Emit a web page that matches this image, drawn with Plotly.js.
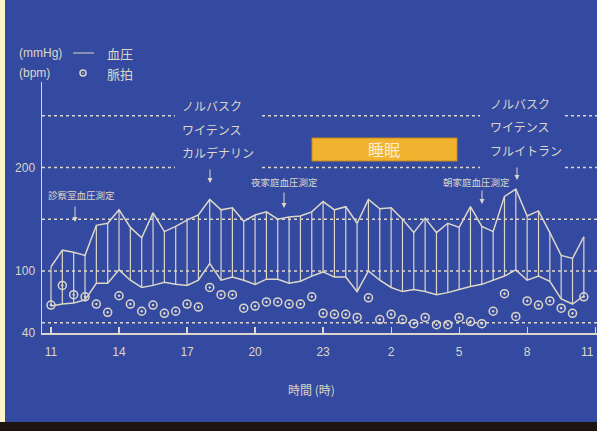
<!DOCTYPE html>
<html>
<head>
<meta charset="utf-8">
<script src="https://cdn.plot.ly/plotly-3.0.1.min.js"></script>
<style>
html,body{margin:0;padding:0;background:#3449a0;overflow:hidden;}
#chart{width:597px;height:431px;}
</style>
</head>
<body>
<div id="chart"></div>
<script>
// Time of measurement (hours since midnight of day 1; 24+ = next day)
const times = [11,11.5,12,12.5,13,13.5,14,14.5,15,15.5,16,16.5,17,17.5,18,18.5,19,19.5,20,20.5,21,21.5,22,22.5,23,23.5,24,24.5,25,25.5,26,26.5,27,27.5,28,28.5,29,29.5,30,30.5,31,31.5,32,32.5,33,33.5,34,34.5];
// Systolic blood pressure (mmHg)
const systolic = [104,120,118,115,144,146,159,142,132,156,138,143,149,154,169,159,161,148,154,157,150,152,153,157,167,159,162,146,169,160,161,150,137,151,137,146,142,162,143,138,172,179,153,158,137,115,112,133];
// Diastolic blood pressure (mmHg)
const diastolic = [66,68,69,72,88,88,101,91,84,86,89,87,86,91,107,91,94,91,87,92,92,88,90,95,99,94,94,80,100,91,84,80,82,80,77,79,82,85,87,91,95,101,91,95,90,73,68,76];
// Pulse (bpm)
const pulse = [67,86,77,75,68,60,76,68,61,67,59,61,68,65,84,77,77,64,66,70,70,68,68,75,59,58,58,55,74,53,58,53,49,55,48,48,55,51,49,61,78,56,71,67,71,64,59,75];
// Axis ticks
const xTickVals = [11,14,17,20,23,26,29,32,35];
const xTickText = ['11','14','17','20','23','2','5','8','11'];
const yTickVals = [40,100,200];
const refLines = [50,100,150,200,250];

const FG = '#dcd7c8';
const BG = '#3449a0';
const JP = '"Noto Sans CJK JP", "Noto Sans", sans-serif';
const NUM = '"Liberation Sans", Arial, sans-serif';

// pixel -> paper helpers (plot area: x 42..597, y 82..333)
const L = 42, R = 597, T = 82, B = 333;
const px = x => (x - L) / (R - L);
const py = y => (B - y) / (B - T);

// vertical bars between diastolic and systolic
const vx = [], vy = [];
times.forEach((t, i) => { vx.push(t, t, null); vy.push(diastolic[i], systolic[i], null); });

const traces = [
  {x: vx, y: vy, mode: 'lines', line: {color: FG, width: 1.2}, hoverinfo: 'skip', showlegend: false},
  {x: times, y: systolic, mode: 'lines', line: {color: FG, width: 1.5}, showlegend: false},
  {x: times, y: diastolic, mode: 'lines', line: {color: FG, width: 1.5}, showlegend: false},
  {x: times, y: pulse, mode: 'markers', marker: {symbol: 'circle-open-dot', size: 8, color: FG, line: {width: 1.5, color: FG}}, showlegend: false}
];

const shapes = [];
// dotted reference lines (with gaps where drug labels sit)
const gapRows = [200, 250];
const segs = [[L, 175], [262, 480], [565, R]];
refLines.forEach(v => {
  if (gapRows.includes(v)) {
    segs.forEach(s => shapes.push({type: 'line', xref: 'paper', yref: 'y', x0: px(s[0]), x1: px(s[1]), y0: v, y1: v, line: {color: FG, width: 1.5, dash: 'dot'}, layer: 'below'}));
  } else {
    shapes.push({type: 'line', xref: 'paper', yref: 'y', x0: 0, x1: 1, y0: v, y1: v, line: {color: FG, width: 1.5, dash: 'dot'}, layer: 'below'});
  }
});
// sleep box
shapes.push({type: 'rect', xref: 'paper', yref: 'paper', x0: px(312), x1: px(457), y0: py(161), y1: py(138), fillcolor: '#f1b22f', line: {color: '#c98a1c', width: 1}});
// legend line & marker
shapes.push({type: 'line', xref: 'paper', yref: 'paper', x0: px(73), x1: px(94), y0: py(53), y1: py(53), line: {color: FG, width: 1}});
shapes.push({type: 'circle', xref: 'paper', yref: 'paper', x0: px(80), x1: px(86), y0: py(76), y1: py(70), line: {color: FG, width: 1.5}});
shapes.push({type: 'circle', xref: 'paper', yref: 'paper', x0: px(82.2), x1: px(83.8), y0: py(73.8), y1: py(72.2), fillcolor: FG, line: {color: FG, width: 0}});
// scan borders
shapes.push({type: 'rect', xref: 'paper', yref: 'paper', x0: px(0), x1: px(5), y0: py(431), y1: py(0), fillcolor: '#fff5c8', line: {width: 0}});
shapes.push({type: 'rect', xref: 'paper', yref: 'paper', x0: px(0), x1: px(597), y0: py(431), y1: py(422), fillcolor: '#1d1410', line: {width: 0}});

function txt(text, x, y, size, anchor, color, font) {
  return {text: text, xref: 'paper', yref: 'paper', x: px(x), y: py(y), xanchor: anchor || 'center', yanchor: 'middle', showarrow: false, font: {family: font || JP, size: size, color: color || FG}};
}
function arrow(x, y0, y1) {
  return {text: '', xref: 'paper', yref: 'paper', x: px(x), y: py(y1), ax: 0, ay: y0 - y1, axref: 'pixel', ayref: 'pixel', showarrow: true, arrowhead: 2, arrowsize: 1, arrowwidth: 1, arrowcolor: FG};
}

const annotations = [
  txt('(mmHg)', 17, 53, 12, 'left', FG, NUM),
  txt('血圧', 105, 53, 13, 'left'),
  txt('(bpm)', 17, 73, 12, 'left', FG, NUM),
  txt('脈拍', 105, 73, 13, 'left'),
  txt('ノルバスク', 180, 105, 12, 'left'),
  txt('ワイテンス', 180, 129, 12, 'left'),
  txt('カルデナリン', 180, 152, 12, 'left'),
  txt('ノルバスク', 488, 103, 12, 'left'),
  txt('ワイテンス', 488, 127, 12, 'left'),
  txt('フルイトラン', 488, 150, 12, 'left'),
  arrow(210, 168, 183),
  arrow(517, 166, 180),
  txt('睡眠', 384, 149, 16, 'center', '#fbeed0'),
  txt('診察室血圧測定', 81, 195, 9.5),
  arrow(75, 205, 222),
  txt('夜家庭血圧測定', 284, 182, 9.5),
  arrow(284, 191, 208),
  txt('朝家庭血圧測定', 476, 182, 9.5),
  arrow(482, 189, 204),
  txt(xTickText[xTickText.length - 1], 596, 352, 12, 'right', FG, NUM),
  txt('時間 (時)', 311, 389, 12)
];

const layout = {
  width: 597, height: 431,
  margin: {l: L, r: 597 - R, t: T, b: 431 - B, pad: 0},
  paper_bgcolor: BG, plot_bgcolor: BG,
  showlegend: false,
  xaxis: {range: [10.603, 35.08], tickvals: xTickVals, ticktext: xTickText.slice(0, -1).concat(['']), showline: true, linecolor: FG, linewidth: 1.5,
          ticks: 'inside', ticklen: 6, tickcolor: FG, tickwidth: 1.2, showgrid: false, zeroline: false,
          tickfont: {family: NUM, size: 12, color: FG}, ticklabelstandoff: 7},
  yaxis: {range: [40, 282.5], tickvals: yTickVals, showline: true, linecolor: FG, linewidth: 1.5, ticks: '',
          showgrid: false, zeroline: false, tickfont: {family: NUM, size: 12, color: FG}, ticklabelstandoff: 3},
  shapes: shapes,
  annotations: annotations
};

Plotly.newPlot('chart', traces, layout, {staticPlot: true, displayModeBar: false});
</script>
</body>
</html>
